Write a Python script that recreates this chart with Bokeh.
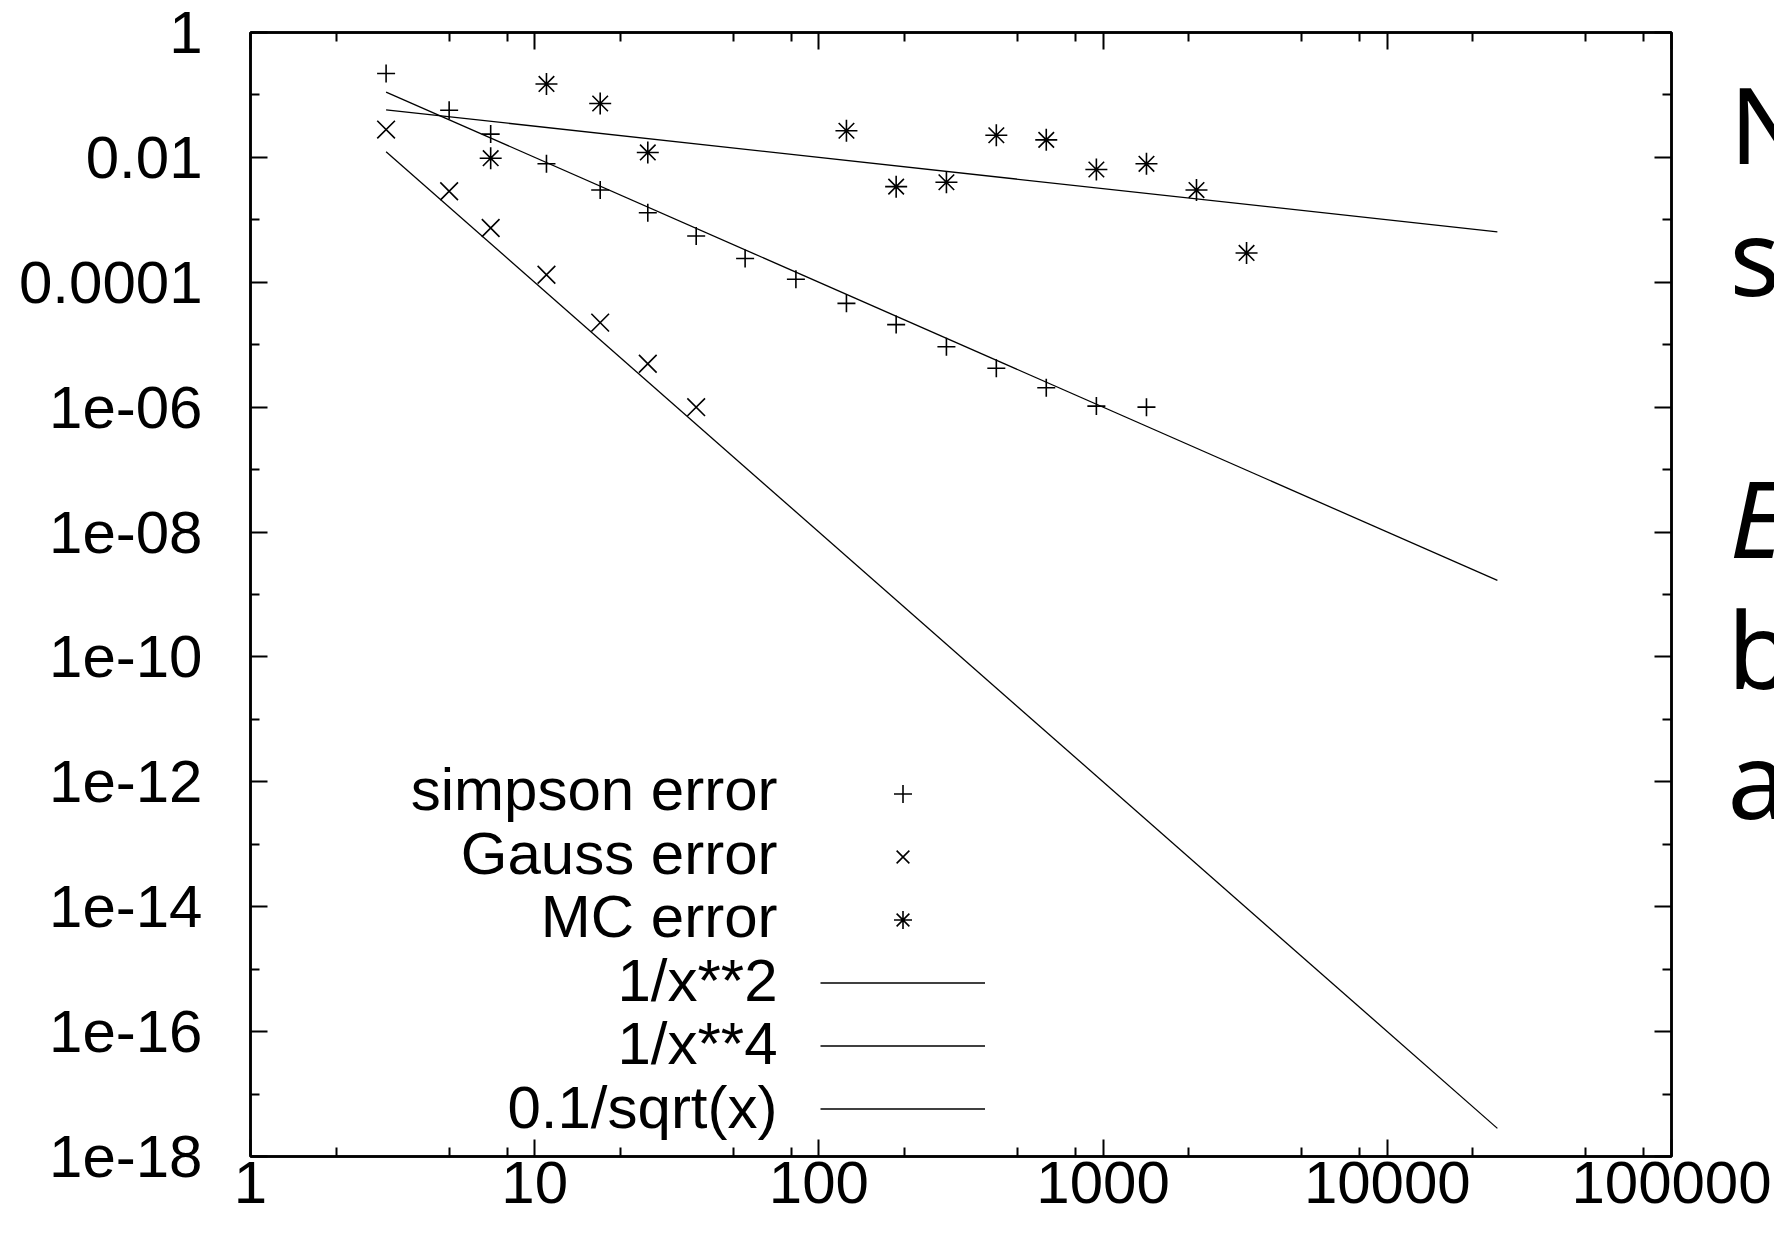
from bokeh.plotting import figure
from bokeh.layouts import row
from bokeh.models import (FixedTicker, LogAxis, CustomJSTickFormatter, Legend,
                          LegendItem, Label, Range1d)
from bokeh.embed import file_html
from bokeh.resources import INLINE

# ---------------- data ----------------
simpson_n = [3, 5, 7, 11, 17, 25, 37, 55, 83, 125, 187, 281, 421, 631, 947, 1421]
simpson_err = [0.22, 0.057, 0.0236, 0.0079, 0.003, 0.0013, 0.00055, 0.00024,
               0.000112, 4.6e-5, 2.1e-5, 9.3e-6, 4.2e-6, 2.05e-6, 1.04e-6, 1.0e-6]

gauss_n = [3, 5, 7, 11, 17, 25, 37]
gauss_err = [0.0279, 0.00287, 7.4e-4, 1.32e-4, 2.26e-5, 4.96e-6, 1.0e-6]

mc_n = [7, 11, 17, 25, 125, 187, 281, 421, 631, 947, 1421, 2131, 3197]
mc_err = [0.0097, 0.15, 0.073, 0.012, 0.0267, 0.0034, 0.0040, 0.0226, 0.0191,
          0.0064, 0.0079, 0.0030, 2.95e-4]

# reference curves, sampled over the plotted range
fit_x = [3, 24400]
fit_inv2 = [1.0 / x ** 2 for x in fit_x]
fit_inv4 = [1.0 / x ** 4 for x in fit_x]
fit_sqrt = [0.1 / x ** 0.5 for x in fit_x]

series_labels = ["simpson error", "Gauss error", "MC error",
                 "1/x**2", "1/x**4", "0.1/sqrt(x)"]

x_ticks = [1, 10, 100, 1000, 10000, 100000]
x_minor_mult = [2, 5, 8]
y_ticks = [10.0 ** (-k) for k in range(0, 19, 2)]
y_minor = [10.0 ** (-k) for k in range(1, 18, 2)]

side_text = ["N", "sc", "E", "b", "at"]

# ---------------- figure ----------------
FONT = "Liberation Sans"
W, H = 1774, 1229
F_LEFT, F_TOP, F_RIGHT, F_BOTTOM = 250, 32, 1671, 1156

p = figure(width=W, height=H, x_axis_type="log", y_axis_type="log",
           x_range=Range1d(1, 1e5), y_range=Range1d(1e-18, 1),
           output_backend="svg", toolbar_location=None,
           min_border_left=F_LEFT, min_border_right=W - F_RIGHT,
           min_border_top=F_TOP, min_border_bottom=H - F_BOTTOM)
p.grid.visible = False
p.outline_line_color = "black"
p.outline_line_width = 2.5
p.background_fill_color = "white"
p.border_fill_color = "white"

x_minor = [m * t for t in x_ticks[:-1] for m in x_minor_mult]

xfmt = CustomJSTickFormatter(code="return Math.round(tick).toString();")
yfmt = CustomJSTickFormatter(code="""
const e = Math.round(Math.log10(tick));
if (e >= -4) { return (e === 0) ? "1" : tick.toFixed(-e); }
const n = -e;
return "1e-" + (n < 10 ? "0" + n : "" + n);
""")
blank = CustomJSTickFormatter(code="return '';")


def style_axis(ax):
    ax.axis_line_width = 2.5
    ax.axis_line_color = "black"
    ax.major_tick_in = 17
    ax.major_tick_out = 0
    ax.minor_tick_in = 9
    ax.minor_tick_out = 0
    ax.major_tick_line_width = 2
    ax.minor_tick_line_width = 2
    ax.major_tick_line_color = "black"
    ax.minor_tick_line_color = "black"
    ax.major_label_text_font = FONT
    ax.major_label_text_font_size = "60px"
    ax.major_label_text_color = "black"


p.xaxis.ticker = FixedTicker(ticks=x_ticks, minor_ticks=x_minor)
p.xaxis.formatter = xfmt
p.yaxis.ticker = FixedTicker(ticks=y_ticks, minor_ticks=y_minor)
p.yaxis.formatter = yfmt
for ax in p.xaxis:
    style_axis(ax)
    ax.major_label_standoff = 5
for ax in p.yaxis:
    style_axis(ax)
    ax.major_label_standoff = 48

top = LogAxis(ticker=FixedTicker(ticks=x_ticks, minor_ticks=x_minor), formatter=blank)
style_axis(top)
top.major_label_text_font_size = "0px"
top.major_label_standoff = 0
p.add_layout(top, "above")
right = LogAxis(ticker=FixedTicker(ticks=y_ticks, minor_ticks=y_minor), formatter=blank)
style_axis(right)
right.major_label_text_font_size = "0px"
right.major_label_standoff = 0
p.add_layout(right, "right")

# ---------------- glyphs ----------------
r_s = p.scatter(simpson_n, simpson_err, marker="cross", size=18,
                line_color="black", line_width=1.6)
r_g = p.scatter(gauss_n, gauss_err, marker="x", size=25,
                line_color="black", line_width=1.6)
r_m = p.scatter(mc_n, mc_err, marker="asterisk", size=22,
                line_color="black", line_width=1.6)
l2 = p.line(fit_x, fit_inv2, line_color="black", line_width=1.3)
l4 = p.line(fit_x, fit_inv4, line_color="black", line_width=1.3)
lq = p.line(fit_x, fit_sqrt, line_color="black", line_width=1.3)

# ---------------- key: samples via Legend, texts right-aligned to their left ----------------
ROW_H = 63.5
KEY_TOP = 758.5           # top of first key row (canvas px)
KEY_SAMPLE_LEFT = 820     # left end of the key samples
KEY_TEXT_RIGHT = 777      # right end of the key texts

rends = [r_s, r_g, r_m, l2, l4, lq]
items = [LegendItem(label="", renderers=[r]) for r in rends]
n_rows = len(items)
legend = Legend(items=items,
                location=(KEY_SAMPLE_LEFT - F_LEFT, F_BOTTOM - (KEY_TOP + n_rows * ROW_H)),
                glyph_width=165, glyph_height=45, label_height=int(ROW_H),
                label_width=0, label_standoff=0, spacing=0, padding=0, margin=0,
                border_line_alpha=0, background_fill_alpha=0,
                label_text_font_size="1px")
p.add_layout(legend)

for i, lab in enumerate(series_labels):
    centre = KEY_TOP + (i + 0.5) * ROW_H
    p.add_layout(Label(x=KEY_TEXT_RIGHT - F_LEFT, y=F_BOTTOM - (centre - 1),
                       x_units="screen", y_units="screen", text=lab,
                       text_font=FONT, text_font_size="60px", text_color="black",
                       text_align="right", text_baseline="middle"))

# ---------------- cut-off slide text at the right edge (transparent overlay strip) ----------------
W2 = 74
q = figure(width=W2, height=H, x_range=Range1d(W - W2, W), y_range=Range1d(F_BOTTOM, F_TOP),
           output_backend="svg", toolbar_location=None,
           x_axis_location=None, y_axis_location=None,
           min_border_left=0, min_border_right=0,
           min_border_top=F_TOP, min_border_bottom=H - F_BOTTOM)
q.grid.visible = False
q.outline_line_color = None
q.background_fill_alpha = 0
q.border_fill_alpha = 0
q.margin = (0, 0, 0, -W2)

side_x = [1729, 1729, 1729, 1727, 1727]
side_base = [163, 295, 557, 688, 818]
side_italic = [False, False, True, False, False]
for t, sx, sb, it in zip(side_text, side_x, side_base, side_italic):
    q.add_layout(Label(x=sx, y=sb - 41, text=t, text_font="Noto Sans",
                       text_font_size="106px",
                       text_font_style="italic" if it else "normal",
                       text_baseline="middle", text_align="left",
                       text_color="black"))

layout = row(p, q, spacing=0)
open("out.html", "w").write(file_html(layout, INLINE))
